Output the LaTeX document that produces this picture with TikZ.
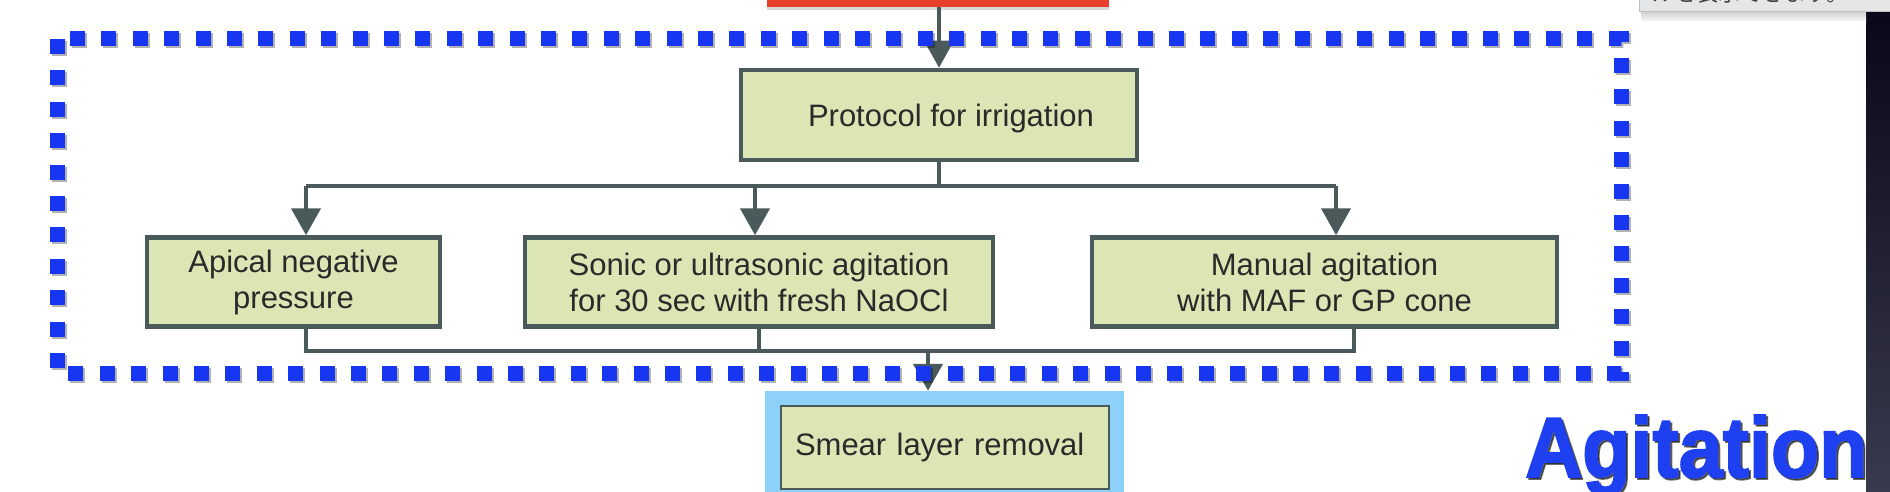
\documentclass[tikz,border=0pt]{standalone}
\usepackage{fontspec}
\setmainfont{Liberation Sans}
\newfontfamily\cjk{Noto Sans CJK JP}
\newfontfamily\agfont[FakeBold=2.2]{Liberation Sans Bold}
\usetikzlibrary{arrows.meta,shadows}
\definecolor{redc}{HTML}{E8402A}
\definecolor{boxfill}{HTML}{DCE6B4}
\definecolor{boxline}{HTML}{4A5A5A}
\definecolor{txt}{HTML}{2A2A2A}
\definecolor{frameblue}{HTML}{8DD0F8}
\definecolor{dotblue}{HTML}{1636F2}
\definecolor{agblue}{HTML}{1E40F0}
\definecolor{stripTop}{HTML}{080818}
\definecolor{stripBot}{HTML}{3A3A4E}
\definecolor{tipgray}{HTML}{E4E6E8}
\tikzset{
  box/.style={draw=boxline, line width=4.5pt, fill=boxfill, minimum height=89pt,
    inner sep=0pt, align=center, text=txt, font=\fontsize{31}{36}\selectfont},
  conn/.style={draw=boxline, line width=4.5pt},
  arr/.style={conn, -{Triangle[width=29pt,length=27pt]}},
  redbox/.style={fill=redc, minimum width=342pt, minimum height=16pt, inner sep=0pt,
    drop shadow={opacity=0.3, shadow xshift=0pt, shadow yshift=-3pt}},
  dotframe/.style={line width=15pt, dash pattern=on 15pt off 16.4pt}
}
\begin{document}
\begin{tikzpicture}[x=1pt,y=-1pt]
\useasboundingbox (0,0) rectangle (1890,492);
\clip (0,0) rectangle (1890,492);
\fill[white] (0,0) rectangle (1890,492);

% top source box
\node[redbox] (src) at (938,-1) {};

% boxes
\node[box, minimum width=396pt, minimum height=90pt, text depth=2pt] (proto) at (939,115) {\hspace*{24pt}\raisebox{-3pt}{Protocol for irrigation}};
\node[box, minimum width=293pt] (apical) at (293.5,282) {Apical negative\\pressure};
\node[box, minimum width=468pt] (sonic) at (759,282) {Sonic or ultrasonic agitation\\for 30 sec with fresh NaOCl};
\node[box, minimum width=465pt] (manual) at (1324.5,282) {Manual agitation\\with MAF or GP cone};

\node[fill=frameblue, minimum width=359pt, minimum height=118pt, inner sep=0pt] (smearframe) at (944.5,450) {};
\node[box, line width=2.5pt, minimum width=328pt, minimum height=83pt, text width=300pt, align=left, inner xsep=14pt] (smear) at (945,447.5) {Smear layer removal};

% connectors
\draw[arr, line width=3.5pt] (src.south -| proto.north) -- (proto.north);
\coordinate (split) at (939,186);
\coordinate (ta) at (306,186);
\coordinate (ts) at (755,186);
\coordinate (tm) at (1336,186);
\draw[conn] (proto.south) -- (split);
\draw[conn] (ta) -- (tm);
\draw[arr] (ta) -- (ta |- apical.north);
\draw[arr] (ts) -- (ts |- sonic.north);
\draw[arr] (tm) -- (tm |- manual.north);

\coordinate (ba) at (306,351);
\coordinate (bs) at (759,351);
\coordinate (bm) at (1354,351);
\coordinate (bj) at (928,351);
\draw[conn] (ba |- apical.south) -- (ba) -- (bm) -- (bm |- manual.south);
\draw[conn] (bs |- sonic.south) -- (bs);
\draw[arr] (bj) -- (bj |- smearframe.north);

% dotted frame
\draw[dotframe, draw=black, opacity=0.3] (59,41) rectangle (1623,375);
\draw[dotframe, draw=dotblue] (57,39) rectangle (1621,373);

% dark strip at right
\shade[top color=stripTop, bottom color=stripBot] (1866,12) rectangle (1890,492);

% tooltip
\shade[top color=black!18, bottom color=white] (1641,12) rectangle (1866,22);
\fill[tipgray] (1639,-5) rectangle (1890,12);
\draw[black!25, line width=1pt] (1639,-5) -- (1639,12) -- (1890,12);
\node[anchor=base west, inner sep=0pt, text=black!75, font=\cjk\fontsize{22}{22}\selectfont] (tip) at (1652,1.5) {ルを表示できます。};

% Agitation label
\node[anchor=base west, inner sep=0pt, yscale=1.08, text=black, opacity=0.55, font=\agfont\fontsize{79}{79}\selectfont] (agshadow) at (1527,479) {Agitation};
\node[anchor=base west, inner sep=0pt, yscale=1.08, text=agblue, font=\agfont\fontsize{79}{79}\selectfont] (agit) at (1525,477) {Agitation};
\end{tikzpicture}
\end{document}
